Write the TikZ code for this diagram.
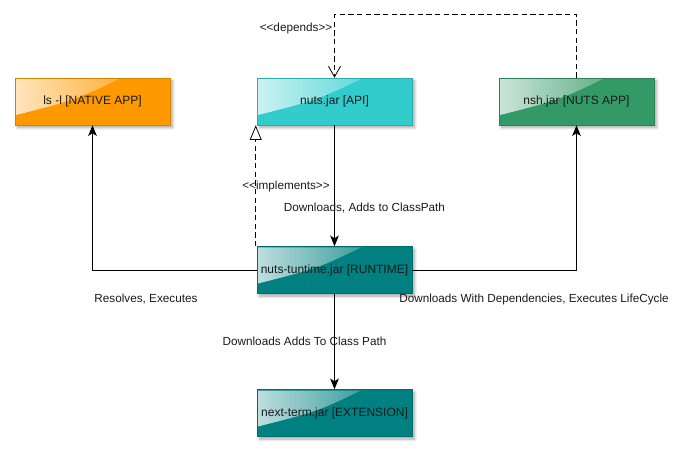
\documentclass[tikz,border=0pt]{standalone}
\usepackage{fontspec}
\setmainfont{Liberation Sans}
\usetikzlibrary{arrows.meta,shadows.blur,fadings,calc}
\definecolor{cOrange}{HTML}{FF9900}
\definecolor{cCyan}{HTML}{33CCCC}
\definecolor{cGreen}{HTML}{339966}
\definecolor{cTeal}{HTML}{008080}
\definecolor{txt}{HTML}{1A1A1A}
\tikzfading[name=glossfade, left color=transparent!25, right color=transparent!100]
\tikzset{
  umlbox/.style={draw=#1!85!black, line width=0.4pt, fill=#1, minimum width=116.25pt, minimum height=35.25pt,
    inner sep=0pt, text=txt, font=\fontsize{9}{10}\selectfont,
    blur shadow={shadow xshift=2pt, shadow yshift=-2pt, shadow blur steps=6, shadow opacity=35},
    path picture={
      \fill[white, path fading=glossfade]
        ($(path picture bounding box.north west)+(1,1)$) -- ($(path picture bounding box.north west)+(104,1)$)
        .. controls ($(path picture bounding box.north west)+(60,22)$) .. ($(path picture bounding box.north west)+(1,37)$) -- cycle;
    }},
  lbl/.style={text=txt, font=\fontsize{8.8}{10}\selectfont, inner sep=0pt},
  conn/.style={line width=0.7pt, -{Stealth[length=8pt,width=6.5pt,inset=2pt]}},
  dashconn/.style={line width=0.6pt, dash pattern=on 4pt off 2.5pt},
}
\begin{document}
\begin{tikzpicture}[x=0.75pt,y=-0.75pt]
\useasboundingbox (0,0) rectangle (688,452);
\node[umlbox=cOrange] (ls)  at (92.5,101.5) {ls -l [NATIVE APP]};
\node[umlbox=cCyan]   (api) at (334.5,101.5) {nuts.jar [API]};
\node[umlbox=cGreen]  (nsh) at (576.5,101.5) {nsh.jar [NUTS APP]};
\node[umlbox=cTeal]   (rt)  at (334.5,270) {nuts-tuntime.jar [RUNTIME]};
\node[umlbox=cTeal]   (ext) at (334.5,413) {next-term.jar [EXTENSION]};
% connectors
\draw[conn] (api.south) -- (rt.north);
\draw[dashconn, -{Triangle[open,length=11pt,width=9pt]}] ([xshift=-0.75pt]rt.north west) -- ([xshift=-0.75pt]api.south west);
\draw[dashconn, -{Straight Barb[length=8pt,width=9pt]}] (nsh.north) -- ++(0,-63) -| (api.north);
\draw[conn] (rt.west) -| (ls.south);
\draw[conn] (rt.east) -| (nsh.south);
\draw[conn] (rt.south) -- (ext.north);
% labels
\node[lbl] (l1) at (364.5,208) {Downloads, Adds to ClassPath};
\node[lbl] (l2) at (286,186) {<{}<implements>{}>};
\node[lbl] (l3) at (296,28) {<{}<depends>{}>};
\node[lbl] (l4) at (146,299) {Resolves, Executes};
\node[lbl] (l5) at (534,299) {Downloads With Dependencies, Executes LifeCycle};
\node[lbl] (l6) at (304.5,341) {Downloads Adds To Class Path};
\end{tikzpicture}
\end{document}
